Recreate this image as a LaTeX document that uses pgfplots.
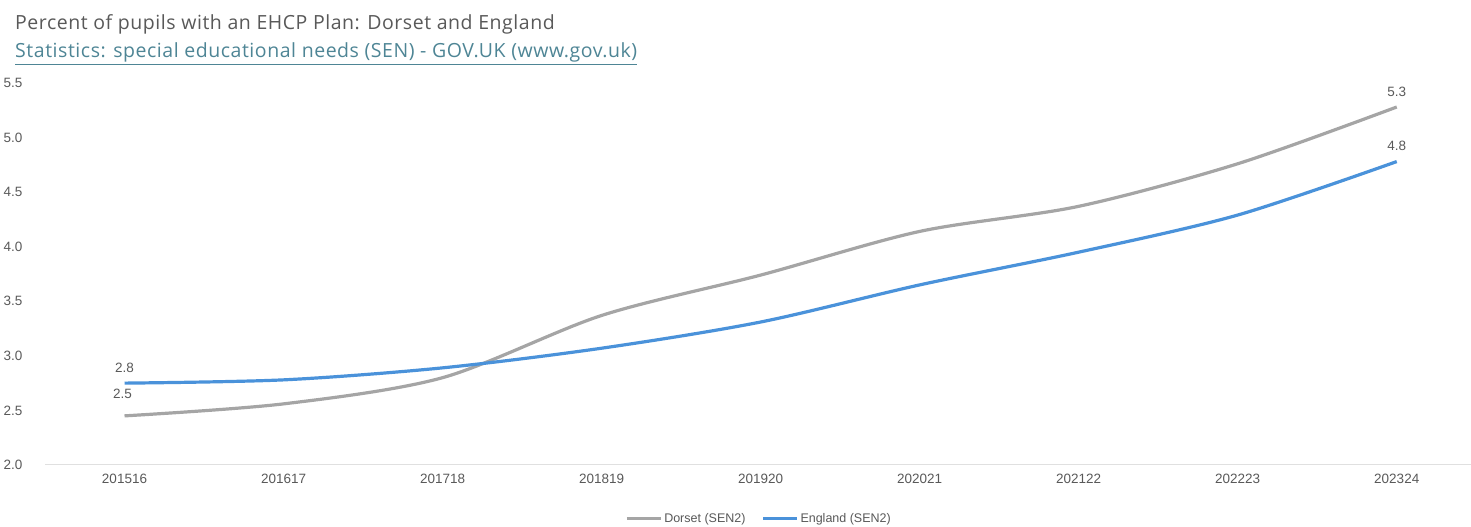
\documentclass[border=0pt]{standalone}
\usepackage{pgfplots}
\pgfplotsset{compat=1.18}
\usepackage{fontspec}
\setmainfont{Liberation Sans}
\newfontfamily\titlefont[LetterSpace=2.8]{Open Sans}
\definecolor{dorset}{HTML}{A5A5A5}
\definecolor{england}{HTML}{4A92DA}
\definecolor{txt}{HTML}{595959}
\definecolor{linkc}{HTML}{4E8595}
\begin{document}
\begin{tikzpicture}[x=1bp,y=1bp]
\path[use as bounding box] (0,0) rectangle (1471,527);
\node[anchor=base west, text=txt, font=\titlefont\fontsize{19.5bp}{22bp}\selectfont, inner sep=0] at (15,497) {Percent of pupils with an EHCP Plan: Dorset and England};
\node[anchor=base west, text=linkc, font=\titlefont\fontsize{19.5bp}{22bp}\selectfont, inner sep=0] at (15,469) {\underline{Statistics: special educational needs (SEN) - GOV.UK (www.gov.uk)}};
\begin{axis}[
  scale only axis, width=1428bp, height=382bp,
  at={(45bp,62bp)}, anchor=south west,
  xmin=-0.5, xmax=8.48, ymin=2, ymax=5.5,
  axis line style={draw=none},
  axis x line*=bottom, axis y line*=left,
  xtick={0,...,8},
  xticklabels={201516,201617,201718,201819,201920,202021,202122,202223,202324},
  ytick={2,2.5,...,5.5},
  y tick label style={/pgf/number format/fixed, /pgf/number format/fixed zerofill, /pgf/number format/precision=1},
  /pgf/number format/assume math mode=true,
  tick style={draw=none},
  ticklabel style={text=txt, font=\fontsize{13.5bp}{16bp}\selectfont},
  yticklabel style={anchor=west, xshift=-45bp},
  xticklabel style={yshift=-6bp},
  legend style={at={(0.5,-62bp)}, anchor=south, yshift=-1bp, draw=none, legend columns=2,
    font=\fontsize{12.5bp}{15bp}\selectfont, text=txt,
    /tikz/every even column/.append style={column sep=14bp}},
  legend cell align=left,
  legend image code/.code={\draw[#1, line width=3bp] (0bp,0bp) -- (34bp,0bp);},
  clip=false,
]
\draw[color=black!12, line width=1bp] (axis cs:-0.5,2) -- (axis cs:8.48,2);
\addplot[dorset, line width=3.2bp, smooth, tension=0.5, mark=none] coordinates {
 (0,2.45) (1,2.56) (2,2.80) (3,3.37) (4,3.74) (5,4.14) (6,4.37) (7,4.76) (8,5.28)};
\addlegendentry{Dorset (SEN2)}
\addplot[england, line width=3.2bp, smooth, tension=0.5, mark=none] coordinates {
 (0,2.75) (1,2.78) (2,2.89) (3,3.07) (4,3.31) (5,3.65) (6,3.95) (7,4.29) (8,4.78)};
\addlegendentry{England (SEN2)}
\addplot[draw=none, mark=none, forget plot, nodes near coords, point meta=explicit symbolic,
  every node near coord/.append style={text=txt, font=\fontsize{13.5bp}{16bp}\selectfont, anchor=south, yshift=7bp}]
  coordinates {(8,5.28) [5.3] (0,2.75) [2.8] (8,4.78) [4.8]};
\addplot[draw=none, mark=none, forget plot, nodes near coords, point meta=explicit symbolic,
  every node near coord/.append style={text=txt, font=\fontsize{13.5bp}{16bp}\selectfont, anchor=south, yshift=14bp, xshift=-2bp}]
  coordinates {(0,2.45) [2.5]};
\end{axis}
\end{tikzpicture}
\end{document}
